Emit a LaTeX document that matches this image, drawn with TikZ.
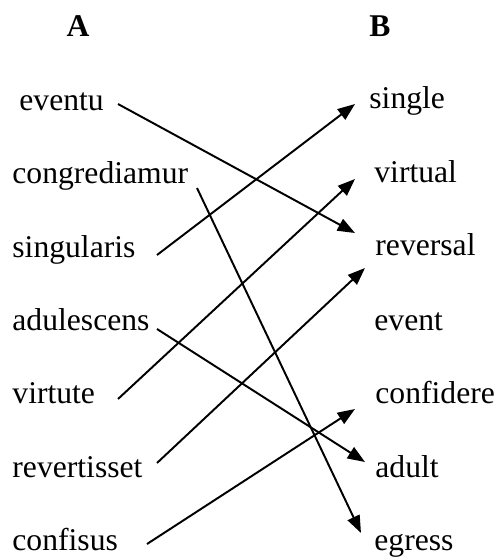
\documentclass[tikz,border=0pt]{standalone}
\usepackage{fontspec}
\setmainfont{Liberation Serif}
\usetikzlibrary{arrows.meta,positioning}

\begin{document}
\begin{tikzpicture}[
  x=0.4615pt, y=-0.4615pt,
  word/.style={anchor=base west, inner sep=0pt, font=\fontsize{14.6}{17}\selectfont},
  head/.style={anchor=base, inner sep=0pt, font=\fontsize{14.6}{17}\selectfont\bfseries},
  match/.style={-{Triangle[length=8pt, width=6pt]}, line width=0.9pt}
]
  \useasboundingbox (0,0) rectangle (497,559);
  % headings
  \node[head] (colA) at (78,36) {A};
  \node[head] (colB) at (380,36) {B};
  % column A
  \node[word] (eventu) at (19,110) {eventu};
  \node[word] (congrediamur) at (12,183) {congrediamur};
  \node[word] (singularis) at (12,257) {singularis};
  \node[word] (adulescens) at (12,330) {adulescens};
  \node[word] (virtute) at (12,403) {virtute};
  \node[word] (revertisset) at (12,477) {revertisset};
  \node[word] (confisus) at (12,550) {confisus};
  % column B
  \node[word] (single) at (369,108) {single};
  \node[word] (virtual) at (374,182) {virtual};
  \node[word] (reversal) at (375,255) {reversal};
  \node[word] (event) at (374,330) {event};
  \node[word] (confidere) at (375,403) {confidere};
  \node[word] (adult) at (375,477) {adult};
  \node[word] (egress) at (374,550) {egress};
  % line ends
  \coordinate (eventu-r) at (118,104);
  \coordinate (congrediamur-r) at (197,188);
  \coordinate (singularis-r) at (157,255);
  \coordinate (adulescens-r) at (157,329);
  \coordinate (virtute-r) at (118,399);
  \coordinate (revertisset-r) at (157,463);
  \coordinate (confisus-r) at (147,544);
  \coordinate (single-l) at (355,104);
  \coordinate (virtual-l) at (355,179);
  \coordinate (reversal-l) at (355,233);
  \coordinate (reversal-b) at (365,268);
  \coordinate (confidere-l) at (355,409);
  \coordinate (adult-l) at (365,462);
  \coordinate (egress-l) at (361,533);
  % matches
  \draw[match] (eventu-r) -- (reversal-l);
  \draw[match] (congrediamur-r) -- (egress-l);
  \draw[match] (singularis-r) -- (single-l);
  \draw[match] (adulescens-r) -- (adult-l);
  \draw[match] (virtute-r) -- (virtual-l);
  \draw[match] (revertisset-r) -- (reversal-b);
  \draw[match] (confisus-r) -- (confidere-l);
\end{tikzpicture}
\end{document}
